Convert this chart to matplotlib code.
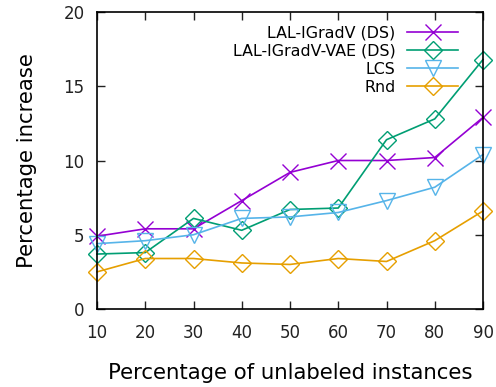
import numpy as np
import matplotlib
matplotlib.use('Agg')
import matplotlib.pyplot as plt

pct = [10, 20, 30, 40, 50, 60, 70, 80, 90]
lal_igradv = [4.9, 5.4, 5.4, 7.3, 9.2, 10.0, 10.0, 10.2, 12.9]
lal_igradv_vae = [3.7, 3.8, 6.1, 5.3, 6.7, 6.8, 11.4, 12.8, 16.8]
lcs = [4.4, 4.6, 5.0, 6.1, 6.2, 6.5, 7.3, 8.2, 10.4]
rnd = [2.5, 3.4, 3.4, 3.1, 3.0, 3.4, 3.2, 4.6, 6.6]

fig = plt.figure(figsize=(4.96, 3.87), dpi=100)
ax = fig.add_axes([97/496, 78/387, 386/496, 297/387])

series = [
    ('LAL-IGradV (DS)', lal_igradv, '#9400d3', 'x', 11.5),
    ('LAL-IGradV-VAE (DS)', lal_igradv_vae, '#009e73', 'D', 9),
    ('LCS', lcs, '#56b4e9', 'v', 11),
    ('Rnd', rnd, '#e69f00', 'D', 9),
]
for name, vals, col, mk, ms in series:
    ax.plot(pct, vals, color=col, lw=1.2, marker=mk, ms=ms, mfc='none',
            mec=col, mew=1.0, label=name, clip_on=False)

ax.set_xlim(10, 90)
ax.set_ylim(0, 20)
ax.set_xticks(pct)
ax.set_yticks([0, 5, 10, 15, 20])
ax.tick_params(direction='in', length=6, width=1, top=True, right=True,
               labelsize=12, colors='#222222')
ax.tick_params(axis='x', pad=11)
ax.tick_params(axis='y', pad=9)
for s in ax.spines.values():
    s.set_linewidth(1.2)

ax.set_xlabel('Percentage of unlabeled instances', fontsize=15.3, labelpad=15)
ax.set_ylabel('Percentage increase', fontsize=15.3, labelpad=19)

ax.legend(loc='upper right', frameon=False, markerfirst=False, fontsize=11.4,
          handlelength=3.2, handletextpad=0.75, labelspacing=0.2,
          bbox_to_anchor=(0.97, 1.0), borderaxespad=0.45)

fig.savefig('out.png', dpi=100)
